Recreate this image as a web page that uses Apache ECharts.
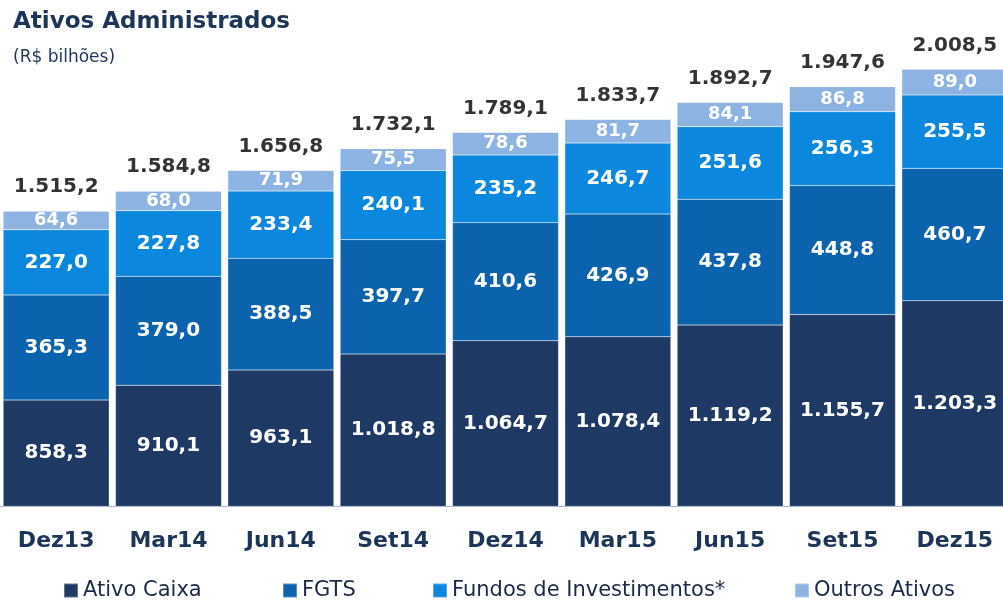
<!DOCTYPE html>
<html>
<head>
<meta charset="utf-8">
<script src="https://cdn.jsdelivr.net/npm/echarts@6/dist/echarts.min.js"></script>
<style>
html,body{margin:0;padding:0;background:#fff;}
#main{width:1003px;height:604px;}
</style>
</head>
<body>
<div id="main"></div>
<script>
// dados (R$ bilhões)
let categories = ['Dez13','Mar14','Jun14','Set14','Dez14','Mar15','Jun15','Set15','Dez15'];
let ativoCaixa = [858.3, 910.1, 963.1, 1018.8, 1064.7, 1078.4, 1119.2, 1155.7, 1203.3];
let fgts = [365.3, 379.0, 388.5, 397.7, 410.6, 426.9, 437.8, 448.8, 460.7];
let fundos = [227.0, 227.8, 233.4, 240.1, 235.2, 246.7, 251.6, 256.3, 255.5];
let outros = [64.6, 68.0, 71.9, 75.5, 78.6, 81.7, 84.1, 86.8, 89.0];
let totais = [1515.2, 1584.8, 1656.8, 1732.1, 1789.1, 1833.7, 1892.7, 1947.6, 2008.5];

let fontName = '"DejaVu Sans", sans-serif';
let navy = '#1d3557';

//formato brasileiro 1.515,2
function fmt(v) {
    let parts = Number(v).toFixed(1).split('.');
    parts[0] = parts[0].replace(/\B(?=(\d{3})+(?!\d))/g, '.');
    return parts[0] + ',' + parts[1];
}

function barSeries(name, data, color, size) {
    return {
        name: name,
        type: 'bar',
        stack: 'total',
        data: data,
        barWidth: 106,
        itemStyle: {color: color, borderColor: 'rgba(255,255,255,0.3)', borderWidth: 0.5},
        label: {
            show: true,
            position: 'inside',
            color: '#fff',
            fontFamily: fontName,
            fontWeight: 'bold',
            fontSize: size,
            formatter: function (p) { return fmt(p.value); }
        }
    };
}

//uma legenda por item, para posicionar cada uma
function legendItem(name, left) {
    return {
        data: [name],
        left: left,
        bottom: -2,
        itemWidth: 14,
        itemHeight: 14,
        icon: 'rect',
        textStyle: {color: '#1a2a48', fontFamily: fontName, fontSize: 21}
    };
}

let chart = echarts.init(document.getElementById('main'));
let option = {
    animation: false,
    title: {
        text: 'Ativos Administrados',
        subtext: '(R$ bilhões)',
        left: 8,
        top: 6,
        itemGap: 15,
        textStyle: {color: navy, fontFamily: fontName, fontWeight: 'bold', fontSize: 23},
        subtextStyle: {color: navy, fontFamily: fontName, fontSize: 17}
    },
    legend: [
        legendItem('Ativo Caixa', 58),
        legendItem('FGTS', 277),
        legendItem('Fundos de Investimentos*', 427),
        legendItem('Outros Ativos', 789)
    ],
    grid: {left: 0, top: 43, width: 1011, bottom: 98, containLabel: false, outerBoundsMode: 'none'},
    xAxis: {
        type: 'category',
        data: categories,
        axisTick: {show: false},
        axisLine: {show: true, lineStyle: {color: '#a9b6c8', width: 1}},
        axisLabel: {
            color: navy,
            fontFamily: fontName,
            fontWeight: 'bold',
            fontSize: 22,
            margin: 24
        }
    },
    yAxis: {
        type: 'value',
        min: 490,
        max: 2100,
        show: false
    },
    series: [
        barSeries('Ativo Caixa', ativoCaixa, '#1e3a64', 20),
        barSeries('FGTS', fgts, '#0b63ad', 20),
        barSeries('Fundos de Investimentos*', fundos, '#0b88dd', 20),
        barSeries('Outros Ativos', outros, '#8db3e2', 18),
        {
            name: 'Total',
            type: 'scatter',
            data: totais,
            symbolSize: 0,
            label: {
                show: true,
                position: 'top',
                distance: 14,
                color: '#000',
                fontFamily: fontName,
                fontWeight: 'bold',
                fontSize: 20,
                formatter: function (p) { return fmt(p.value); }
            }
        }
    ]
};
chart.setOption(option);
</script>
</body>
</html>
